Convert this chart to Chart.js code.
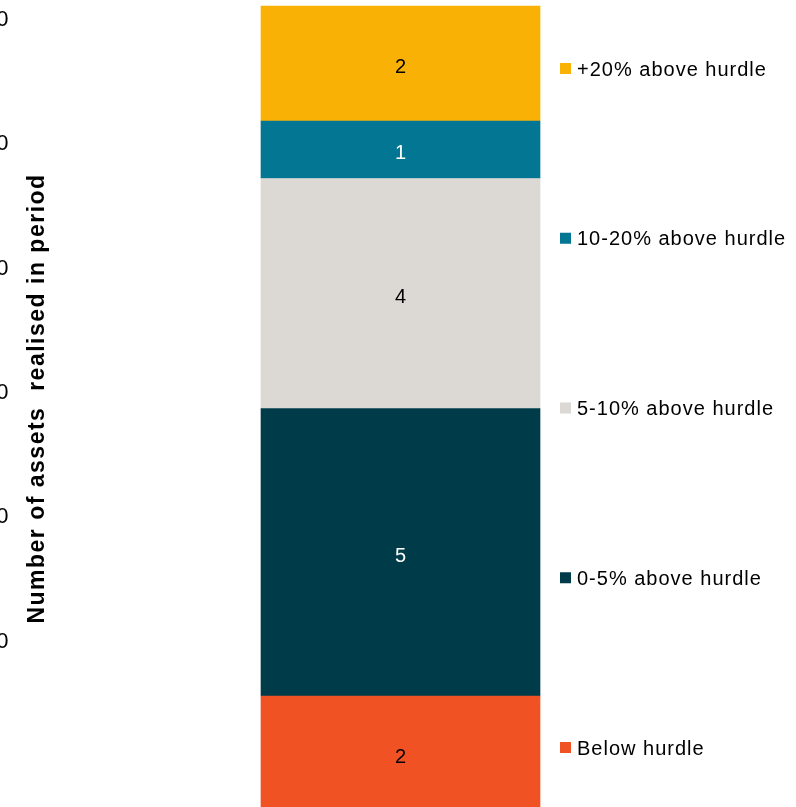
<!DOCTYPE html>
<html>
<head>
<meta charset="utf-8">
<script src="https://cdn.jsdelivr.net/npm/chart.js@4.4.1/dist/chart.umd.min.js"></script>
<style>
    body { margin: 0; background: #fff; }
    #wrap { position: relative; width: 796px; height: 807px; overflow: hidden; }
    #inner { position: absolute; left: -40px; top: 0; }
</style>
</head>
<body>
<div id="wrap">
    <div id="inner"><canvas id="returns" width="836" height="811"></canvas></div>
</div>
<script>
const categories = [''];
const bandLabels = ['Below hurdle', '0-5% above hurdle', '5-10% above hurdle', '10-20% above hurdle', '+20% above hurdle'];
const assetCounts = [2, 5, 4, 1, 2];
const bandColors = ['#F05224', '#003B4A', '#DCD8D3', '#027693', '#F8B104'];
const countColors = ['#000', '#fff', '#000', '#fff', '#000'];
const outerTicks = [0, 10, 20, 30, 40, 50];

const FONT = '"Liberation Sans", Arial, sans-serif';

// text in this chart is drawn slightly spread out
const spacing = {
    id: 'spacing',
    beforeDraw(chart) {
        chart.ctx.letterSpacing = '1.5px';
    }
};

// lift the axis title a little; the scale itself is already configured
const titleNudge = {
    id: 'titleNudge',
    afterLayout(chart) {
        const y = chart.scales.y;
        y.top -= 10;
        y.bottom -= 10;
    }
};

// segment counts in the middle of each block
const countLabels = {
    id: 'countLabels',
    afterDatasetsDraw(chart) {
        const ctx = chart.ctx;
        ctx.save();
        ctx.letterSpacing = '0px';
        ctx.font = '20px ' + FONT;
        ctx.textAlign = 'center';
        ctx.textBaseline = 'middle';
        chart.data.datasets.forEach((ds, i) => {
            const bar = chart.getDatasetMeta(i).data[0];
            ctx.fillStyle = countColors[i];
            ctx.fillText(ds.data[0], bar.x, (bar.y + bar.base) / 2 + 4);
        });
        ctx.restore();
    }
};

// legend column on the right, top band first
const sideLegend = {
    id: 'sideLegend',
    afterDraw(chart, args, opts) {
        const {ctx, chartArea} = chart;
        const x = chartArea.right + opts.offset;
        ctx.save();
        ctx.letterSpacing = '1px';
        ctx.font = '20px ' + FONT;
        ctx.textAlign = 'left';
        ctx.textBaseline = 'middle';
        chart.data.datasets.slice().reverse().forEach((ds, i) => {
            const y = opts.top + i * opts.step;
            ctx.fillStyle = ds.backgroundColor;
            ctx.fillRect(x, y - 7, 11, 11);
            ctx.fillStyle = '#000';
            ctx.fillText(ds.label, x + 17, y);
        });
        ctx.restore();
    }
};

new Chart(document.getElementById('returns'), {
    type: 'bar',
    data: {
        labels: categories,
        datasets: bandLabels.map((label, i) => ({
            label: label,
            data: [assetCounts[i]],
            backgroundColor: bandColors[i],
            borderWidth: 0,
            barPercentage: 1,
            categoryPercentage: 1,
            clip: false,
        }))
    },
    options: {
        responsive: false,
        animation: false,
        layout: {
            padding: {top: 6, right: 256, bottom: 0, left: 0}
        },
        scales: {
            x: {
                stacked: true,
                display: false,
            },
            y: {
                stacked: true,
                min: 0,
                max: 14,
                grid: {display: false, drawTicks: false},
                border: {display: false},
                ticks: {display: false},
                title: {
                    display: true,
                    text: 'Number of assets  realised in period',
                    color: '#000',
                    font: {family: FONT, size: 23, weight: 'bold'},
                    padding: {top: 14, bottom: 0},
                },
                afterFit: axis => {
                    axis.width = 251;
                    axis.paddingTop = 0;
                    axis.paddingBottom = 0;
                }
            },
            y2: {
                position: 'left',
                weight: 1,
                min: -13.6,
                max: 51.1,
                grid: {display: false, drawTicks: false},
                border: {display: false},
                ticks: {
                    color: '#000',
                    padding: 0,
                    font: {family: FONT, size: 22},
                },
                afterBuildTicks: axis => {
                    axis.ticks = outerTicks.map(v => ({value: v}));
                },
                afterFit: axis => {
                    axis.width = 50;
                    axis.paddingTop = 0;
                    axis.paddingBottom = 0;
                }
            }
        },
        plugins: {
            legend: {display: false},
            tooltip: {enabled: false},
            sideLegend: {offset: 20, top: 70, step: 169.75},
        }
    },
    plugins: [spacing, titleNudge, countLabels, sideLegend]
});
</script>
</body>
</html>
